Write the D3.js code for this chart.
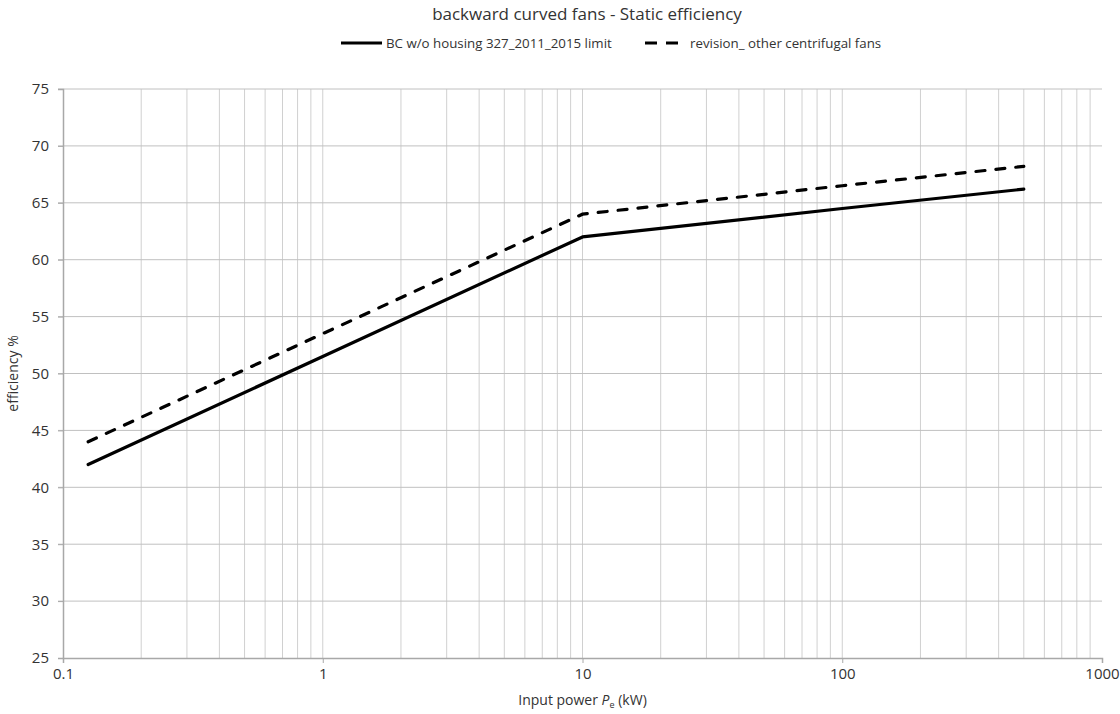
<!DOCTYPE html>
<html>
<head>
<meta charset="utf-8">
<script src="https://cdn.jsdelivr.net/npm/d3@7"></script>
<style>
  body { margin: 0; background: #fff; }
  text { font-family: "Open Sans", "Liberation Sans", sans-serif; fill: #333; }
</style>
</head>
<body>
<div id="chart"></div>
<script>
// values
const powerKW = [0.125, 1, 10, 100, 500];
const bcLimit = [42, 51.5, 62, 64.5, 66.2];
const revision = [44, 53.5, 64, 66.5, 68.2];
const seriesNames = ['BC w/o housing 327_2011_2015 limit', 'revision_ other centrifugal fans'];
const yTicks = [25, 30, 35, 40, 45, 50, 55, 60, 65, 70, 75];
const xTicks = [0.1, 1, 10, 100, 1000];

const width = 1120, height = 714;
const margin = { left: 63, right: 18, top: 89, bottom: 56 };

const svg = d3.select('#chart').append('svg')
  .attr('width', width)
  .attr('height', height);

const x = d3.scaleLog()
  .domain([0.1, 1000])
  .range([margin.left, width - margin.right]);

const y = d3.scaleLinear()
  .domain([25, 75])
  .range([height - margin.bottom, margin.top]);

// minor vertical gridlines: 1..9 of every decade
const minor = [];
for (let e = -1; e < 3; e++) {
  for (let m = 2; m <= 9; m++) minor.push(m * Math.pow(10, e));
}

svg.append('g')
  .selectAll('line')
  .data(minor.concat(xTicks.slice(1, -1)))
  .join('line')
  .attr('x1', d => x(d)).attr('x2', d => x(d))
  .attr('y1', y(25)).attr('y2', y(75))
  .attr('stroke', '#d0d0d0')
  .attr('stroke-width', 1);

// horizontal gridlines
svg.append('g')
  .selectAll('line')
  .data(yTicks.slice(1))
  .join('line')
  .attr('x1', x(0.1) - 5).attr('x2', x(1000))
  .attr('y1', d => y(d)).attr('y2', d => y(d))
  .attr('stroke', '#c0c0c0')
  .attr('stroke-width', 1);

// axes
const xAxis = d3.axisBottom(x)
  .tickValues(xTicks)
  .tickSize(5)
  .tickPadding(5)
  .tickFormat(d => String(d));

const yAxis = d3.axisLeft(y)
  .tickValues(yTicks)
  .tickSize(5)
  .tickPadding(9);

const gx = svg.append('g')
  .attr('transform', `translate(0,${y(25)})`)
  .call(xAxis);

const gy = svg.append('g')
  .attr('transform', `translate(${x(0.1)},0)`)
  .call(yAxis);

[gx, gy].forEach(g => {
  g.select('.domain').attr('stroke', '#a8a8a8').attr('stroke-width', 1.5);
  g.selectAll('.tick line').attr('stroke', '#a8a8a8');
  g.selectAll('.tick text')
    .style('font-family', '"Open Sans", sans-serif')
    .style('font-size', '15px')
    .attr('fill', '#222');
});

// series lines
const line = d3.line()
  .x(d => x(d[0]))
  .y(d => y(d[1]));

svg.append('path')
  .datum(d3.zip(powerKW, bcLimit))
  .attr('d', line)
  .attr('fill', 'none')
  .attr('stroke', '#000')
  .attr('stroke-width', 3.2)
  .attr('stroke-linejoin', 'round')
  .attr('stroke-linecap', 'round');

svg.append('path')
  .datum(d3.zip(powerKW, revision))
  .attr('d', line)
  .attr('fill', 'none')
  .attr('stroke', '#000')
  .attr('stroke-width', 3.2)
  .attr('stroke-dasharray', '9,11')
  .attr('stroke-linecap', 'round');

// title
svg.append('text')
  .attr('x', 587)
  .attr('y', 20)
  .attr('text-anchor', 'middle')
  .style('font-size', '17px')
  .attr('fill', '#222')
  .text('backward curved fans - Static efficiency');

// legend
const legend = svg.append('g').attr('transform', 'translate(0,43)');
legend.append('line')
  .attr('x1', 341).attr('x2', 382).attr('y1', 0).attr('y2', 0)
  .attr('stroke', '#000').attr('stroke-width', 3.2);
legend.append('text')
  .attr('x', 386).attr('y', 4.5)
  .style('font-size', '13.3px')
  .attr('fill', '#222')
  .text(seriesNames[0]);
legend.append('line')
  .attr('x1', 645).attr('x2', 684).attr('y1', 0).attr('y2', 0)
  .attr('stroke', '#000').attr('stroke-width', 3.2)
  .attr('stroke-dasharray', '12,9');
legend.append('text')
  .attr('x', 690).attr('y', 4.5)
  .style('font-size', '13.3px')
  .attr('fill', '#222')
  .text(seriesNames[1]);

// axis titles
svg.append('text')
  .attr('transform', `translate(18,${(y(25) + y(75)) / 2}) rotate(-90)`)
  .attr('text-anchor', 'middle')
  .style('font-size', '14px')
  .attr('fill', '#222')
  .text('efficiency %');

const xt = svg.append('text')
  .attr('x', x(10))
  .attr('y', 705)
  .attr('text-anchor', 'middle')
  .style('font-size', '14px')
  .attr('fill', '#222');
xt.append('tspan').text('Input power ');
xt.append('tspan').style('font-style', 'italic').text('P');
xt.append('tspan').attr('dy', 3).style('font-size', '9px').text('e');
xt.append('tspan').attr('dy', -3).text(' (kW)');
</script>
</body>
</html>
